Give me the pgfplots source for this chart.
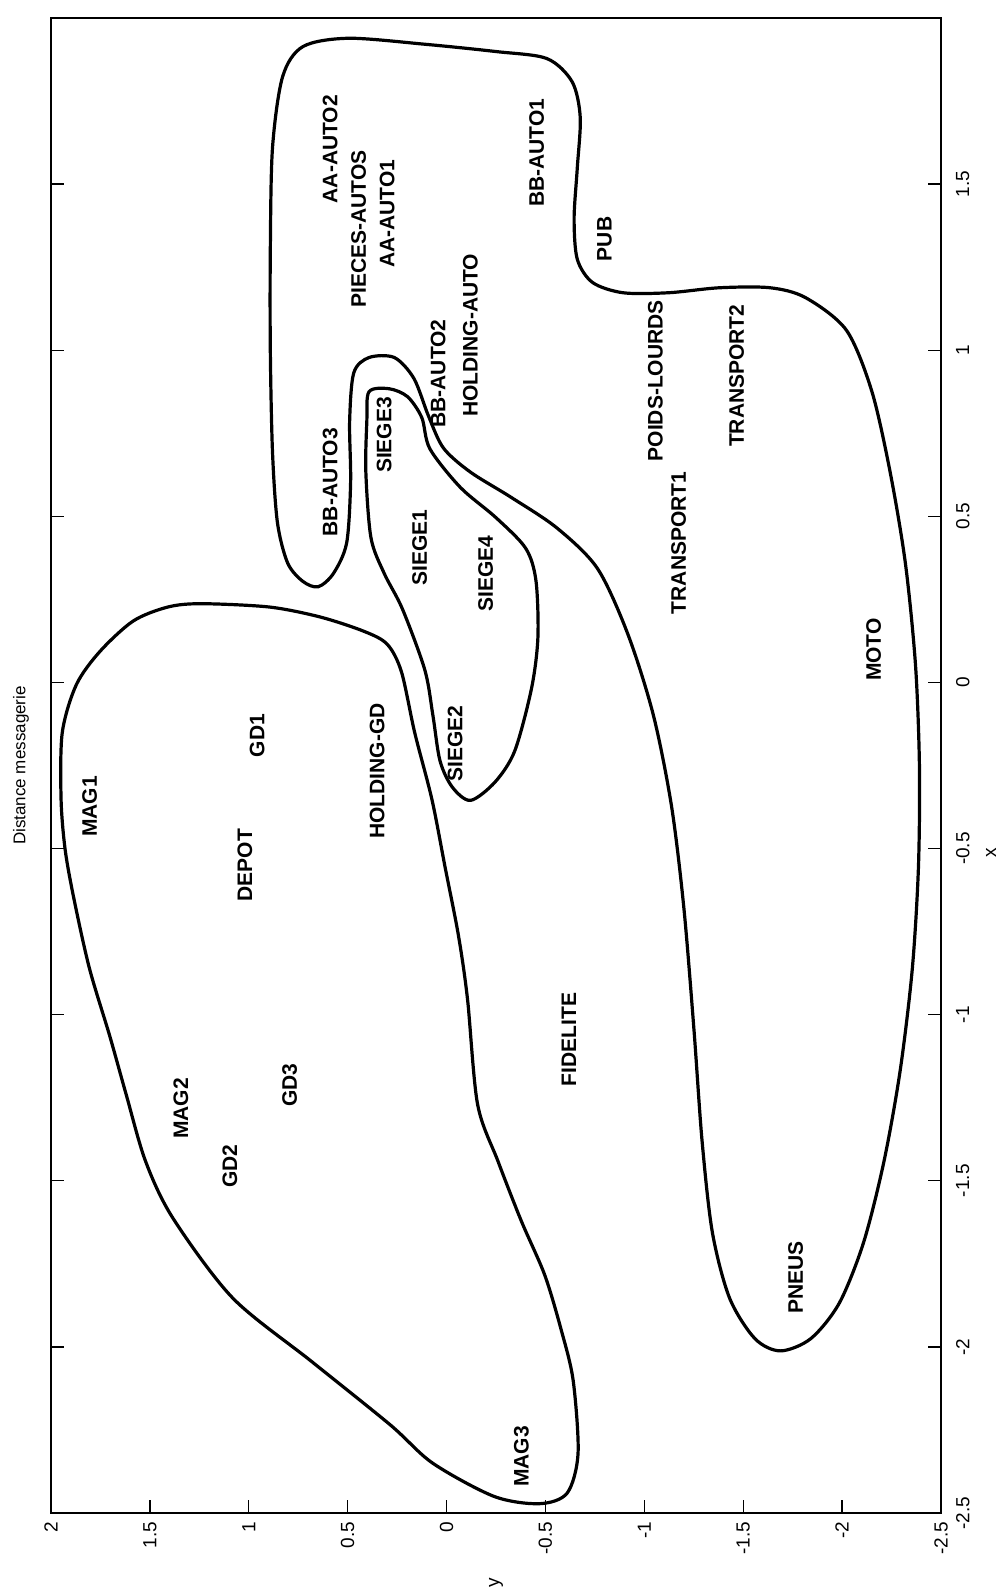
\documentclass[border=0pt]{standalone}
\usepackage{pgfplots}
\pgfplotsset{compat=1.18}
\usepackage{fontspec}
\setmainfont{Liberation Sans}
\usetikzlibrary{calc}

\newcommand{\lblfont}{\fontsize{10.5}{12}\selectfont}
\newcommand{\tickfont}{\fontsize{9.5}{11}\selectfont}

\begin{document}
\begin{tikzpicture}
% page = axis box (445pt x 747.5pt) plus the margins of the scan
\useasboundingbox (-25.5pt,-39pt) rectangle (476pt,756.5pt);
\begin{axis}[
    name=ax,
    at={(0,0)}, anchor=south west,
    scale only axis,
    width=445pt, height=747.5pt,
    xmin=-2.5, xmax=2, ymin=-2.5, ymax=2,
    x dir=reverse,
    xtick={-2.5,-2,-1.5,-1,-0.5,0,0.5,1,1.5,2},
    xticklabels={-2.5,-2,-1.5,-1,-0.5,0,0.5,1,1.5,2},
    ytick={-2.5,-2,-1.5,-1,-0.5,0,0.5,1,1.5},
    yticklabels={-2.5,-2,-1.5,-1,-0.5,0,0.5,1,1.5},
    xtick pos=left,
    yticklabel pos=right,
    tick align=inside,
    major tick length=6.5pt,
    axis line style={line width=1pt},
    every tick/.style={black, line width=0.7pt},
    xticklabel style={rotate=90, anchor=east, font=\tickfont},
    yticklabel style={rotate=90, anchor=north, font=\tickfont},
    xticklabel shift=1pt,
    yticklabel shift=4pt,
]

% contour: autos / transport / moto / pneus
\addplot[smooth cycle, line width=1.6pt, black] coordinates {
(0.829,1.823) (0.726,1.914) (0.495,1.939) (0.110,1.921) (-0.250,1.899)
(-0.507,1.878) (-0.635,1.808) (-0.676,1.701) (-0.661,1.548) (-0.645,1.396)
(-0.661,1.274) (-0.738,1.204) (-0.892,1.173) (-1.123,1.173) (-1.380,1.188)
(-1.636,1.188) (-1.816,1.158) (-2.022,1.060) (-2.150,0.877) (-2.243,0.633)
(-2.320,0.359) (-2.371,0.054) (-2.391,-0.251) (-2.386,-0.557) (-2.355,-0.862)
(-2.294,-1.167) (-2.212,-1.441) (-2.109,-1.685) (-1.986,-1.868) (-1.842,-1.975)
(-1.688,-2.012) (-1.559,-1.975) (-1.431,-1.853) (-1.344,-1.655) (-1.292,-1.380)
(-1.251,-1.045) (-1.200,-0.679) (-1.138,-0.374) (-1.046,-0.099) (-0.917,0.145)
(-0.763,0.343) (-0.558,0.465) (-0.327,0.557) (-0.121,0.633) (0.015,0.705)
(0.090,0.800) (0.165,0.915) (0.264,0.978) (0.392,0.978) (0.469,0.932)
(0.490,0.786) (0.485,0.603) (0.505,0.420) (0.572,0.328) (0.649,0.288)
(0.726,0.304) (0.803,0.359) (0.855,0.481) (0.880,0.694) (0.891,0.999)
(0.891,1.304) (0.880,1.609)
};

% contour: sieges
\addplot[smooth cycle, line width=1.6pt, black] coordinates {
(0.392,0.875) (0.290,0.884) (0.197,0.860) (0.125,0.797) (0.084,0.703)
(-0.070,0.587) (-0.250,0.496) (-0.400,0.404) (-0.452,0.307) (-0.462,0.136)
(-0.430,-0.017) (-0.345,-0.206) (-0.245,-0.300) (-0.121,-0.355) (-0.029,-0.315)
(0.033,-0.236) (0.069,-0.099) (0.110,0.038) (0.223,0.221) (0.315,0.328)
(0.382,0.435) (0.408,0.633) (0.403,0.786)
};

% contour: grande distribution / magasins
\addplot[smooth cycle, line width=1.6pt, black] coordinates {
(1.240,0.237) (0.896,0.227) (0.639,0.197) (0.418,0.154) (0.300,0.115)
(0.228,0.032) (0.161,-0.151) (0.074,-0.352) (0.007,-0.557) (-0.060,-0.761)
(-0.106,-0.953) (-0.157,-1.270) (-0.260,-1.441) (-0.378,-1.621) (-0.496,-1.783)
(-0.578,-1.945) (-0.640,-2.100) (-0.665,-2.320) (-0.610,-2.440) (-0.470,-2.472)
(-0.240,-2.450) (0.070,-2.350) (0.284,-2.235) (0.680,-2.045) (1.081,-1.853)
(1.384,-1.612) (1.522,-1.441) (1.620,-1.240) (1.702,-1.066) (1.805,-0.862)
(1.882,-0.657) (1.928,-0.505) (1.949,-0.352) (1.943,-0.151) (1.872,-0.007)
(1.753,0.093) (1.584,0.185) (1.409,0.227)
};

% names
\addplot[draw=none, mark=none, nodes near coords, point meta=explicit symbolic,
    every node near coord/.append style={rotate=90, anchor=center, inner sep=0pt, font=\bfseries\lblfont}]
table[meta=label] {
h v label
0.588 1.605 AA-AUTO2
0.444 1.365 PIECES-AUTOS
0.300 1.411 AA-AUTO1
-0.455 1.594 BB-AUTO1
-0.799 1.335 PUB
0.043 0.930 BB-AUTO2
-0.121 1.045 HOLDING-AUTO
0.588 0.603 BB-AUTO3
0.315 0.745 SIEGE3
0.136 0.405 SIEGE1
-0.198 0.328 SIEGE4
-0.044 -0.184 SIEGE2
0.351 -0.267 HOLDING-GD
-1.056 0.908 POIDS-LOURDS
-1.467 0.923 TRANSPORT2
-1.174 0.420 TRANSPORT1
-2.160 0.099 MOTO
0.957 -0.160 GD1
1.805 -0.373 MAG1
1.019 -0.550 DEPOT
-0.619 -1.075 FIDELITE
1.343 -1.282 MAG2
1.096 -1.456 GD2
0.793 -1.212 GD3
-1.765 -1.792 PNEUS
-0.378 -2.330 MAG3
};
\end{axis}
\node[rotate=90, font=\tickfont] at ($(ax.south)+(0,-35pt)$) {y};
\node[rotate=90, font=\tickfont] at ($(ax.south east)+(25pt,330pt)$) {x};
\node[rotate=90, font=\fontsize{8.5}{10}\selectfont] at ($(ax.west)+(-15pt,0)$) {Distance messagerie};
\end{tikzpicture}
\end{document}
